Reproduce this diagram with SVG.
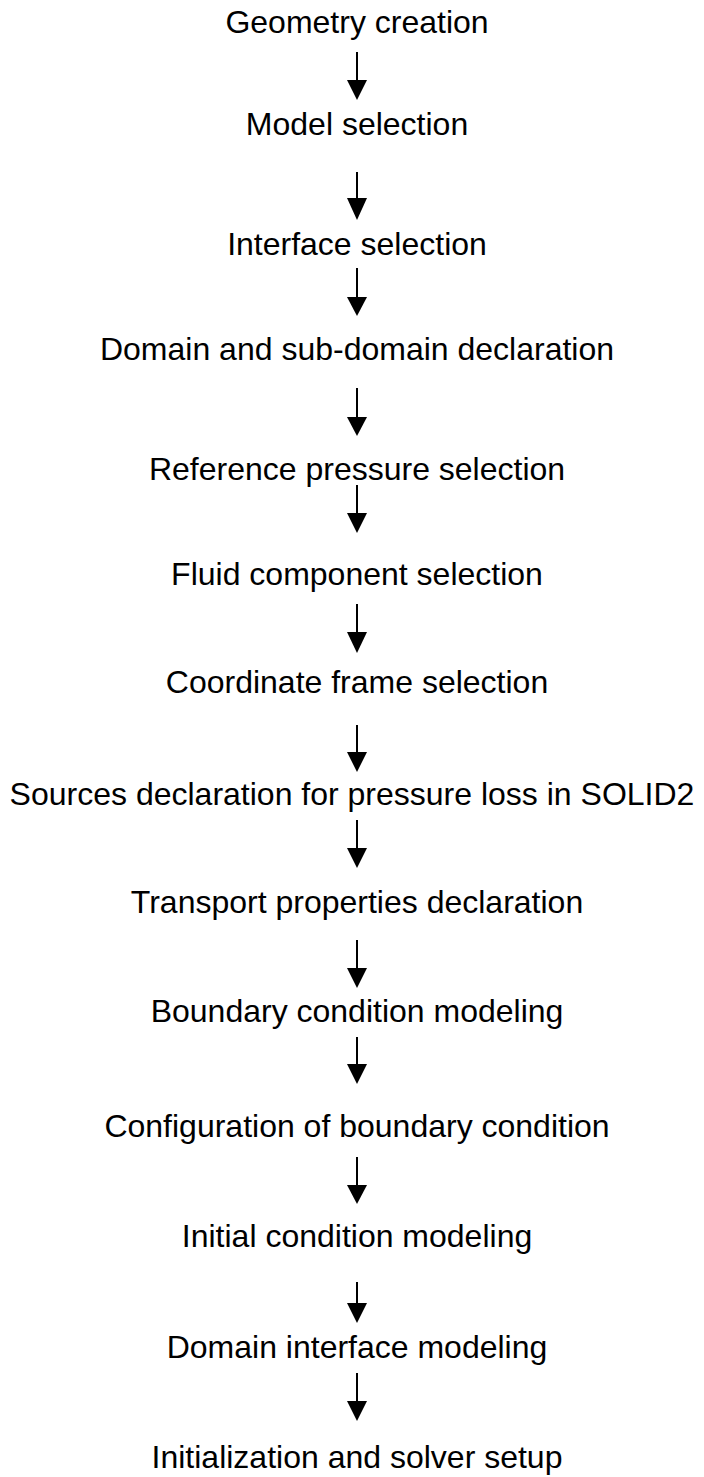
<svg xmlns="http://www.w3.org/2000/svg" width="704" height="1477" viewBox="0 0 704 1477">
<style>
text{font-family:"Liberation Sans",Arial,sans-serif;font-size:32px;fill:#000;text-anchor:middle}
.c line{stroke:#000;stroke-width:2}
.c polygon{fill:#000}
</style>
<rect width="704" height="1477" fill="#fff"/>
<g id="n1"><text x="357" y="33">Geometry creation</text></g>
<g id="n2"><text x="357" y="135">Model selection</text></g>
<g id="n3"><text x="357" y="255">Interface selection</text></g>
<g id="n4"><text x="357" y="360">Domain and sub-domain declaration</text></g>
<g id="n5"><text x="357" y="480">Reference pressure selection</text></g>
<g id="n6"><text x="357" y="585">Fluid component selection</text></g>
<g id="n7"><text x="357" y="693">Coordinate frame selection</text></g>
<g id="n8"><text x="352" y="805">Sources declaration for pressure loss in SOLID2</text></g>
<g id="n9"><text x="357" y="913">Transport properties declaration</text></g>
<g id="n10"><text x="357" y="1022">Boundary condition modeling</text></g>
<g id="n11"><text x="357" y="1137">Configuration of boundary condition</text></g>
<g id="n12"><text x="357" y="1247">Initial condition modeling</text></g>
<g id="n13"><text x="357" y="1358">Domain interface modeling</text></g>
<g id="n14"><text x="357" y="1468">Initialization and solver setup</text></g>
<g id="connectors" class="c">
<line x1="357" y1="52" x2="357" y2="82"/><polygon points="347,80 367,80 357,100"/>
<line x1="357" y1="172" x2="357" y2="200"/><polygon points="347,198 367,198 357,220"/>
<line x1="357" y1="268" x2="357" y2="299"/><polygon points="347,297 367,297 357,316"/>
<line x1="357" y1="388" x2="357" y2="419"/><polygon points="347,417 367,417 357,436"/>
<line x1="357" y1="485" x2="357" y2="515"/><polygon points="347,513 367,513 357,533"/>
<line x1="357" y1="604" x2="357" y2="634"/><polygon points="347,632 367,632 357,653"/>
<line x1="357" y1="725" x2="357" y2="754"/><polygon points="347,752 367,752 357,772"/>
<line x1="357" y1="820" x2="357" y2="850"/><polygon points="347,848 367,848 357,868"/>
<line x1="357" y1="940" x2="357" y2="970"/><polygon points="347,968 367,968 357,988"/>
<line x1="357" y1="1037" x2="357" y2="1066"/><polygon points="347,1064 367,1064 357,1084"/>
<line x1="357" y1="1157" x2="357" y2="1187"/><polygon points="347,1185 367,1185 357,1204"/>
<line x1="357" y1="1282" x2="357" y2="1305"/><polygon points="347,1303 367,1303 357,1323"/>
<line x1="357" y1="1373" x2="357" y2="1403"/><polygon points="347,1401 367,1401 357,1421"/>
</g>
</svg>
